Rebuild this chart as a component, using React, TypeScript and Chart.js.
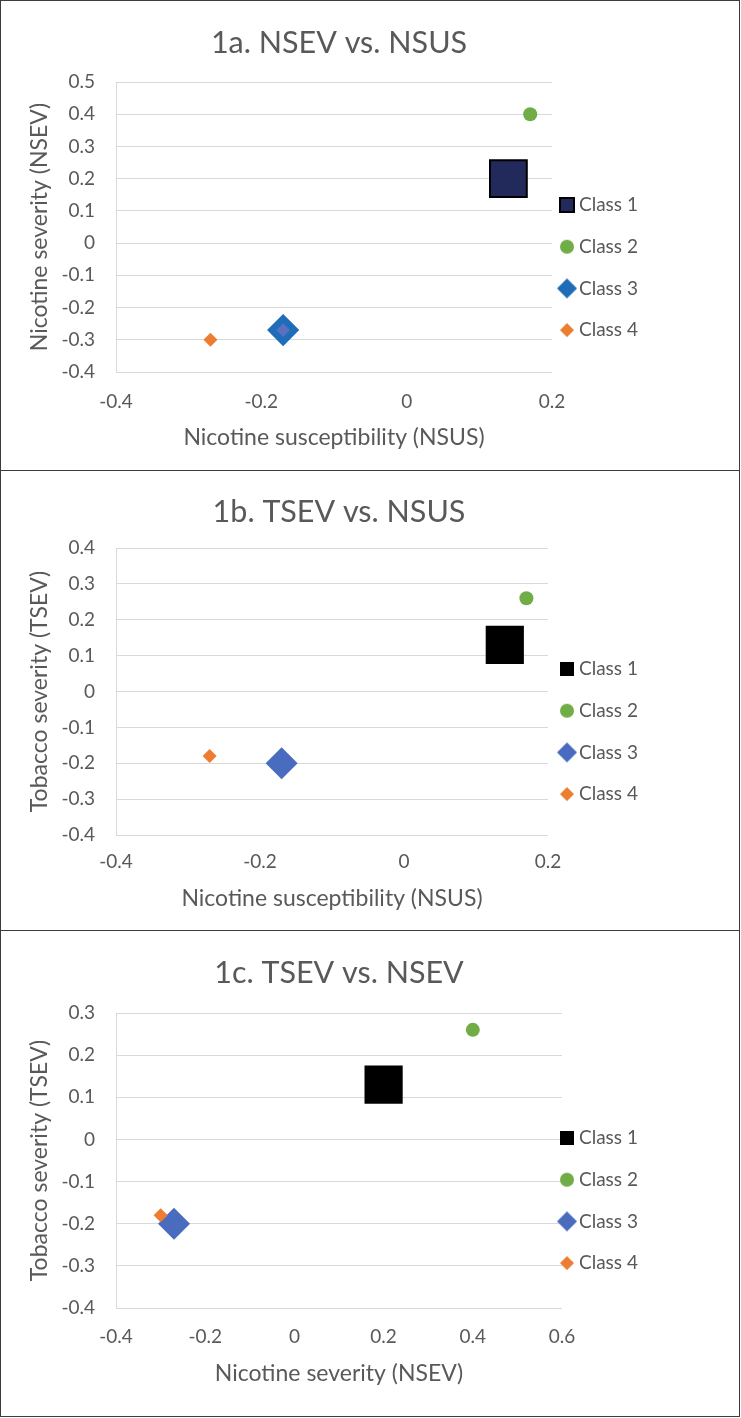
import React, { useEffect, useRef } from 'react';
import { Chart, registerables } from 'chart.js';

Chart.register(...registerables);

// ---------------- data ----------------
const classLabels = ['Class 1', 'Class 2', 'Class 3', 'Class 4'];
const nsusValues = [0.14, 0.17, -0.17, -0.27]; // Nicotine susceptibility
const nsevValues = [0.2, 0.4, -0.27, -0.3]; // Nicotine severity
const tsevValues = [0.13, 0.26, -0.2, -0.18]; // Tobacco severity

const nsusTickLabels = ['-0.4', '-0.2', '0', '0.2'];
const nsevXTickLabels = ['-0.4', '-0.2', '0', '0.2', '0.4', '0.6'];
const nsevYTickLabels = ['-0.4', '-0.3', '-0.2', '-0.1', '0', '0.1', '0.2', '0.3', '0.4', '0.5'];
const tsevTickLabels1b = ['-0.4', '-0.3', '-0.2', '-0.1', '0', '0.1', '0.2', '0.3', '0.4'];
const tsevTickLabels1c = ['-0.4', '-0.3', '-0.2', '-0.1', '0', '0.1', '0.2', '0.3'];

const panelTitles = ['1a. NSEV vs. NSUS', '1b. TSEV vs. NSUS', '1c. TSEV vs. NSEV'];
const xAxisTitles = ['Nicotine susceptibility (NSUS)', 'Nicotine susceptibility (NSUS)', 'Nicotine severity (NSEV)'];
const yAxisTitles = ['Nicotine severity (NSEV)', 'Tobacco severity (TSEV)', 'Tobacco severity (TSEV)'];

// ---------------- styles ----------------
type Marker = {
  style: 'rect' | 'circle' | 'rectRot';
  radius: number;
  fill: string;
  stroke: string;
  borderWidth: number;
  legendSize: number;
  legendFill: string;
  legendStroke: string;
  legendBorder: number;
};

const markersA: Marker[] = [
  { style: 'rect', radius: 26, fill: '#222a5c', stroke: '#000000', borderWidth: 2, legendSize: 14, legendFill: '#222a5c', legendStroke: '#000000', legendBorder: 2 },
  { style: 'circle', radius: 7, fill: '#70ad47', stroke: '#70ad47', borderWidth: 0, legendSize: 14, legendFill: '#70ad47', legendStroke: '#70ad47', legendBorder: 0 },
  { style: 'rectRot', radius: 11.5, fill: '#5a70c1', stroke: '#1f6cb8', borderWidth: 6.5, legendSize: 20, legendFill: '#1f6cb8', legendStroke: '#1f6cb8', legendBorder: 0 },
  { style: 'rectRot', radius: 7, fill: '#ed7d31', stroke: '#ed7d31', borderWidth: 0, legendSize: 14, legendFill: '#ed7d31', legendStroke: '#ed7d31', legendBorder: 0 },
];
const markersBC: Marker[] = [
  { style: 'rect', radius: 27, fill: '#000000', stroke: '#000000', borderWidth: 0, legendSize: 14, legendFill: '#000000', legendStroke: '#000000', legendBorder: 0 },
  { style: 'circle', radius: 7, fill: '#70ad47', stroke: '#70ad47', borderWidth: 0, legendSize: 14, legendFill: '#70ad47', legendStroke: '#70ad47', legendBorder: 0 },
  { style: 'rectRot', radius: 16, fill: '#4a6cbf', stroke: '#4a6cbf', borderWidth: 0, legendSize: 20, legendFill: '#4a6cbf', legendStroke: '#4a6cbf', legendBorder: 0 },
  { style: 'rectRot', radius: 7, fill: '#ed7d31', stroke: '#ed7d31', borderWidth: 0, legendSize: 14, legendFill: '#ed7d31', legendStroke: '#ed7d31', legendBorder: 0 },
];

type Layout = {
  h: number; titleY: number; top: number; bottom: number; xLabelY: number; xTitleY: number; right: number; legendY: number;
};
const layouts: Layout[] = [
  { h: 469, titleY: 42, top: 81, bottom: 371, xLabelY: 401, xTitleY: 437, right: 551, legendY: 204 },
  { h: 459, titleY: 41, top: 77, bottom: 364, xLabelY: 391, xTitleY: 428, right: 547, legendY: 198 },
  { h: 485, titleY: 42, top: 82, bottom: 377, xLabelY: 406, xTitleY: 443, right: 561, legendY: 207 },
];

const CANVAS_W = 738;
const PLOT_LEFT = 115;
const Y_TITLE_X = 39;
const Y_LABEL_RIGHT = 94;
const LEGEND_MARKER_X = 566;
const TITLE_X = 338;
const FONT = 'Lato, "Open Sans", sans-serif';
const TEXT = '#595959';
const GRID = '#d9d9d9';
const TITLE_FS = 30.5;
const TICK_FS = 19;
const AXIS_FS = 23;
const LEGEND_FS = 19;
const LEGEND_PAD = 22.7;
const LEGEND_BOX = 5;

function makeIcon(m: Marker): HTMLCanvasElement {
  const s = Math.ceil(m.legendSize + 6);
  const c = document.createElement('canvas');
  c.width = s;
  c.height = s;
  const ctx = c.getContext('2d')!;
  ctx.translate(s / 2, s / 2);
  const half = m.legendSize / 2;
  ctx.beginPath();
  if (m.style === 'rect') {
    ctx.rect(-half, -half, m.legendSize, m.legendSize);
  } else if (m.style === 'circle') {
    ctx.arc(0, 0, half, 0, Math.PI * 2);
  } else {
    ctx.moveTo(0, -half);
    ctx.lineTo(half, 0);
    ctx.lineTo(0, half);
    ctx.lineTo(-half, 0);
    ctx.closePath();
  }
  ctx.fillStyle = m.legendFill;
  ctx.fill();
  if (m.legendBorder > 0) {
    ctx.lineWidth = m.legendBorder;
    ctx.strokeStyle = m.legendStroke;
    ctx.stroke();
  }
  return c;
}

function tickFormatter(labels: string[]) {
  return (v: number | string) => {
    const n = Number(v);
    const s = labels.find((l) => Math.abs(parseFloat(l) - n) < 1e-9);
    return s ?? '';
  };
}

function buildConfig(
  idx: number,
  xs: number[],
  ys: number[],
  xLabels: string[],
  yLabels: string[],
  markers: Marker[]
): any {
  const L = layouts[idx];
  const tlh = TITLE_FS * 1.2;
  const klh = TICK_FS * 1.2;
  const alh = AXIS_FS * 1.2;
  const titlePadTop = L.titleY - tlh / 2;
  const titlePadBottom = L.top - titlePadTop - tlh;
  const xScaleHeight = L.h - L.bottom;
  const xTickPad = L.xLabelY - L.bottom - klh / 2;
  const xTitlePadBottom = L.h - L.xTitleY - alh / 2;
  const yTitlePadTop = Y_TITLE_X - alh / 2;
  const yTickPad = PLOT_LEFT - Y_LABEL_RIGHT;
  const legendLeft = LEGEND_MARKER_X - LEGEND_BOX / 2 - LEGEND_PAD;
  const legendTop = L.legendY - LEGEND_FS / 2 - LEGEND_PAD;
  const icons = markers.map(makeIcon);

  const datasets = classLabels.map((label, i) => ({
    type: 'scatter',
    label,
    data: [{ x: xs[i], y: ys[i] }],
    pointStyle: markers[i].style,
    pointRadius: markers[i].radius,
    pointHoverRadius: markers[i].radius,
    pointBackgroundColor: markers[i].fill,
    pointBorderColor: markers[i].stroke,
    pointBorderWidth: markers[i].borderWidth,
    pointHoverBorderWidth: markers[i].borderWidth,
    showLine: false,
    order: classLabels.length - i,
    clip: false,
  }));

  const placePlugin = {
    id: 'placeBlocks' + idx,
    afterLayout(chart: any) {
      const lg = chart.legend;
      if (lg) {
        const w = lg.width;
        const h = lg.height;
        lg.left = legendLeft;
        lg.right = legendLeft + w;
        lg.top = legendTop;
        lg.bottom = legendTop + h;
      }
      const tb = chart.titleBlock;
      if (tb) {
        tb.left = 0;
        tb.right = TITLE_X * 2;
      }
    },
  };

  return {
    type: 'scatter',
    data: { datasets },
    plugins: [placePlugin],
    options: {
      responsive: false,
      animation: false,
      devicePixelRatio: 1,
      layout: { padding: { left: 0, top: 0, bottom: 0, right: CANVAS_W - L.right } },
      plugins: {
        tooltip: { enabled: false },
        title: {
          display: true,
          text: panelTitles[idx],
          color: TEXT,
          font: { family: FONT, size: TITLE_FS, weight: 'normal' },
          padding: { top: titlePadTop, bottom: titlePadBottom },
        },
        legend: {
          display: true,
          position: 'chartArea',
          align: 'start',
          labels: {
            usePointStyle: true,
            boxWidth: LEGEND_BOX,
            boxHeight: LEGEND_FS,
            padding: LEGEND_PAD,
            color: TEXT,
            font: { family: FONT, size: LEGEND_FS },
            generateLabels: () =>
              classLabels.map((label, i) => ({
                text: label,
                fillStyle: markers[i].legendFill,
                strokeStyle: markers[i].legendStroke,
                lineWidth: 0,
                pointStyle: icons[i],
                hidden: false,
                datasetIndex: i,
                fontColor: TEXT,
              })),
          },
        },
      },
      scales: {
        x: {
          type: 'linear',
          position: 'bottom',
          min: parseFloat(xLabels[0]),
          max: parseFloat(xLabels[xLabels.length - 1]),
          afterBuildTicks: (scale: any) => {
            scale.ticks = xLabels.map((l) => ({ value: parseFloat(l) }));
          },
          afterFit: (scale: any) => {
            scale.height = xScaleHeight;
          },
          grid: { display: false, drawTicks: false },
          border: { display: false },
          ticks: {
            padding: xTickPad,
            color: TEXT,
            autoSkip: false,
            maxRotation: 0,
            font: { family: FONT, size: TICK_FS },
            callback: tickFormatter(xLabels),
          },
          title: {
            display: true,
            text: xAxisTitles[idx],
            color: TEXT,
            font: { family: FONT, size: AXIS_FS },
            padding: { top: 0, bottom: xTitlePadBottom },
          },
        },
        y: {
          type: 'linear',
          position: 'left',
          min: parseFloat(yLabels[0]),
          max: parseFloat(yLabels[yLabels.length - 1]),
          afterBuildTicks: (scale: any) => {
            scale.ticks = yLabels.map((l) => ({ value: parseFloat(l) }));
          },
          afterFit: (scale: any) => {
            scale.width = PLOT_LEFT;
          },
          grid: { display: true, color: GRID, lineWidth: 1, drawTicks: false },
          border: { display: true, color: GRID, width: 1 },
          ticks: {
            padding: yTickPad,
            color: TEXT,
            autoSkip: false,
            font: { family: FONT, size: TICK_FS },
            callback: tickFormatter(yLabels),
          },
          title: {
            display: true,
            text: yAxisTitles[idx],
            color: TEXT,
            font: { family: FONT, size: AXIS_FS },
            padding: { top: yTitlePadTop, bottom: 0 },
          },
        },
      },
    },
  };
}

function Panel({ idx, top, xs, ys, xLabels, yLabels, markers }: {
  idx: number; top: number; xs: number[]; ys: number[]; xLabels: string[]; yLabels: string[]; markers: Marker[];
}) {
  const ref = useRef<HTMLCanvasElement | null>(null);
  const h = layouts[idx].h;
  useEffect(() => {
    if (!ref.current) return;
    const chart = new Chart(ref.current, buildConfig(idx, xs, ys, xLabels, yLabels, markers));
    return () => chart.destroy();
  }, []);
  return (
    <div
      style={{
        position: 'absolute',
        left: 0,
        top,
        width: CANVAS_W + 2,
        height: h + 2,
        boxSizing: 'border-box',
        border: '1px solid #3c3c3c',
        background: '#ffffff',
      }}
    >
      <canvas ref={ref} width={CANVAS_W} height={h} style={{ display: 'block', width: CANVAS_W, height: h }} />
    </div>
  );
}

export default function App() {
  return (
    <div style={{ position: 'relative', width: 741, height: 1418, background: '#ffffff' }}>
      <style>{'body{margin:0;background:#ffffff;}'}</style>
      <Panel idx={0} top={0} xs={nsusValues} ys={nsevValues} xLabels={nsusTickLabels} yLabels={nsevYTickLabels} markers={markersA} />
      <Panel idx={1} top={470} xs={nsusValues} ys={tsevValues} xLabels={nsusTickLabels} yLabels={tsevTickLabels1b} markers={markersBC} />
      <Panel idx={2} top={930} xs={nsevValues} ys={tsevValues} xLabels={nsevXTickLabels} yLabels={tsevTickLabels1c} markers={markersBC} />
    </div>
  );
}
